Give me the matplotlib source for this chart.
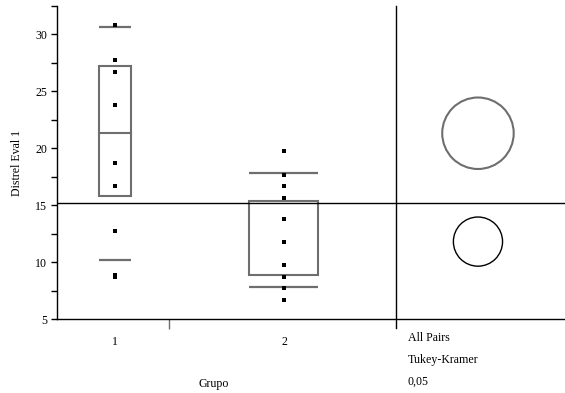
import matplotlib.pyplot as plt
from matplotlib.patches import Ellipse, Rectangle

plt.rcParams['font.family'] = ['Liberation Serif', 'DejaVu Serif']
plt.rcParams['font.size'] = 8.6

# data
grupo_labels = ['1', '2']
grupo_pos = [1.0, 2.0]
grupo1_vals = [30.86, 27.76, 26.70, 23.82, 18.75, 16.72, 12.77, 8.72, 8.84]
grupo2_vals = [19.78, 17.69, 16.72, 15.66, 13.81, 11.78, 9.74, 8.65, 7.71, 6.65]
box_q1 = [15.78, 8.83]
box_med = [21.37, None]
box_q3 = [27.2, 15.34]
q10 = [10.15, 7.85]
q90 = [30.65, 17.84]
box_half = [0.096, 0.204]
grand_mean = 15.15
circle_centers = [21.32, 11.8]
circle_radii = [3.14, 2.16]
circle_colors = ['#6e6e6e', 'black']

gray = '#6e6e6e'
fig = plt.figure(figsize=(5.65, 3.93), dpi=100)
ax = fig.add_axes([57 / 565, 1 - 319 / 393, 1 - 57 / 565, (319 - 6) / 393])
xmin, xmax = 0.657, 3.663
ymin, ymax = 5, 32.5
ax.set_xlim(xmin, xmax)
ax.set_ylim(ymin, ymax)

for spine in ['top', 'right']:
    ax.spines[spine].set_visible(False)
for spine in ['left', 'bottom']:
    ax.spines[spine].set_linewidth(1.0)

# boxes and quantile lines
for i, x in enumerate(grupo_pos):
    h = box_half[i]
    ax.add_patch(Rectangle((x - h, box_q1[i]), 2 * h, box_q3[i] - box_q1[i],
                           fill=False, edgecolor=gray, linewidth=1.5))
    if box_med[i] is not None:
        ax.plot([x - h, x + h], [box_med[i]] * 2, color=gray, lw=1.5)
    ax.plot([x - h, x + h], [q10[i]] * 2, color=gray, lw=1.6, solid_capstyle='butt')
    ax.plot([x - h, x + h], [q90[i]] * 2, color=gray, lw=1.6, solid_capstyle='butt')

ax.plot([grupo_pos[0]] * len(grupo1_vals), grupo1_vals, 's', color='black',
        markersize=2.3, markeredgewidth=0)
ax.plot([grupo_pos[1]] * len(grupo2_vals), grupo2_vals, 's', color='black',
        markersize=2.3, markeredgewidth=0)

# grand mean and separator
ax.axhline(grand_mean, color='black', lw=1.0)
ax.plot([2.663, 2.663], [ymin - 0.8, ymax], color='black', lw=1.0, clip_on=False)

# comparison circles (kept round in pixel space)
fig_w, fig_h = fig.get_size_inches() * fig.dpi
pos = ax.get_position()
px_x = pos.width * fig_w / (xmax - xmin)
px_y = pos.height * fig_h / (ymax - ymin)
for c, r, col in zip(circle_centers, circle_radii, circle_colors):
    ax.add_patch(Ellipse((3.148, c), 2 * r * px_y / px_x, 2 * r, fill=False,
                         edgecolor=col, linewidth=1.5 if col != 'black' else 1.0))

# ticks
ax.set_yticks([5, 10, 15, 20, 25, 30])
ax.set_yticks([7.5, 12.5, 17.5, 22.5, 27.5, 32.5], minor=True)
ax.tick_params(axis='y', which='both', direction='out', length=4, width=1, pad=3)
ax.set_xticks(grupo_pos)
ax.set_xticklabels(grupo_labels)
ax.set_xticks([1.32], minor=True)
ax.tick_params(axis='x', which='major', length=0, pad=12)
ax.tick_params(axis='x', which='minor', length=7, width=1, color=gray)

ax.set_ylabel('Distrel Eval 1', labelpad=9)

fig.text(214 / 565, 1 - 384 / 393, 'Grupo', ha='center', va='center')
fig.text(408 / 565, 1 - 338 / 393, 'All Pairs', ha='left', va='center')
fig.text(408 / 565, 1 - 360 / 393, 'Tukey-Kramer', ha='left', va='center')
fig.text(408 / 565, 1 - 382 / 393, '0,05', ha='left', va='center')

fig.savefig('out.png', dpi=100)
